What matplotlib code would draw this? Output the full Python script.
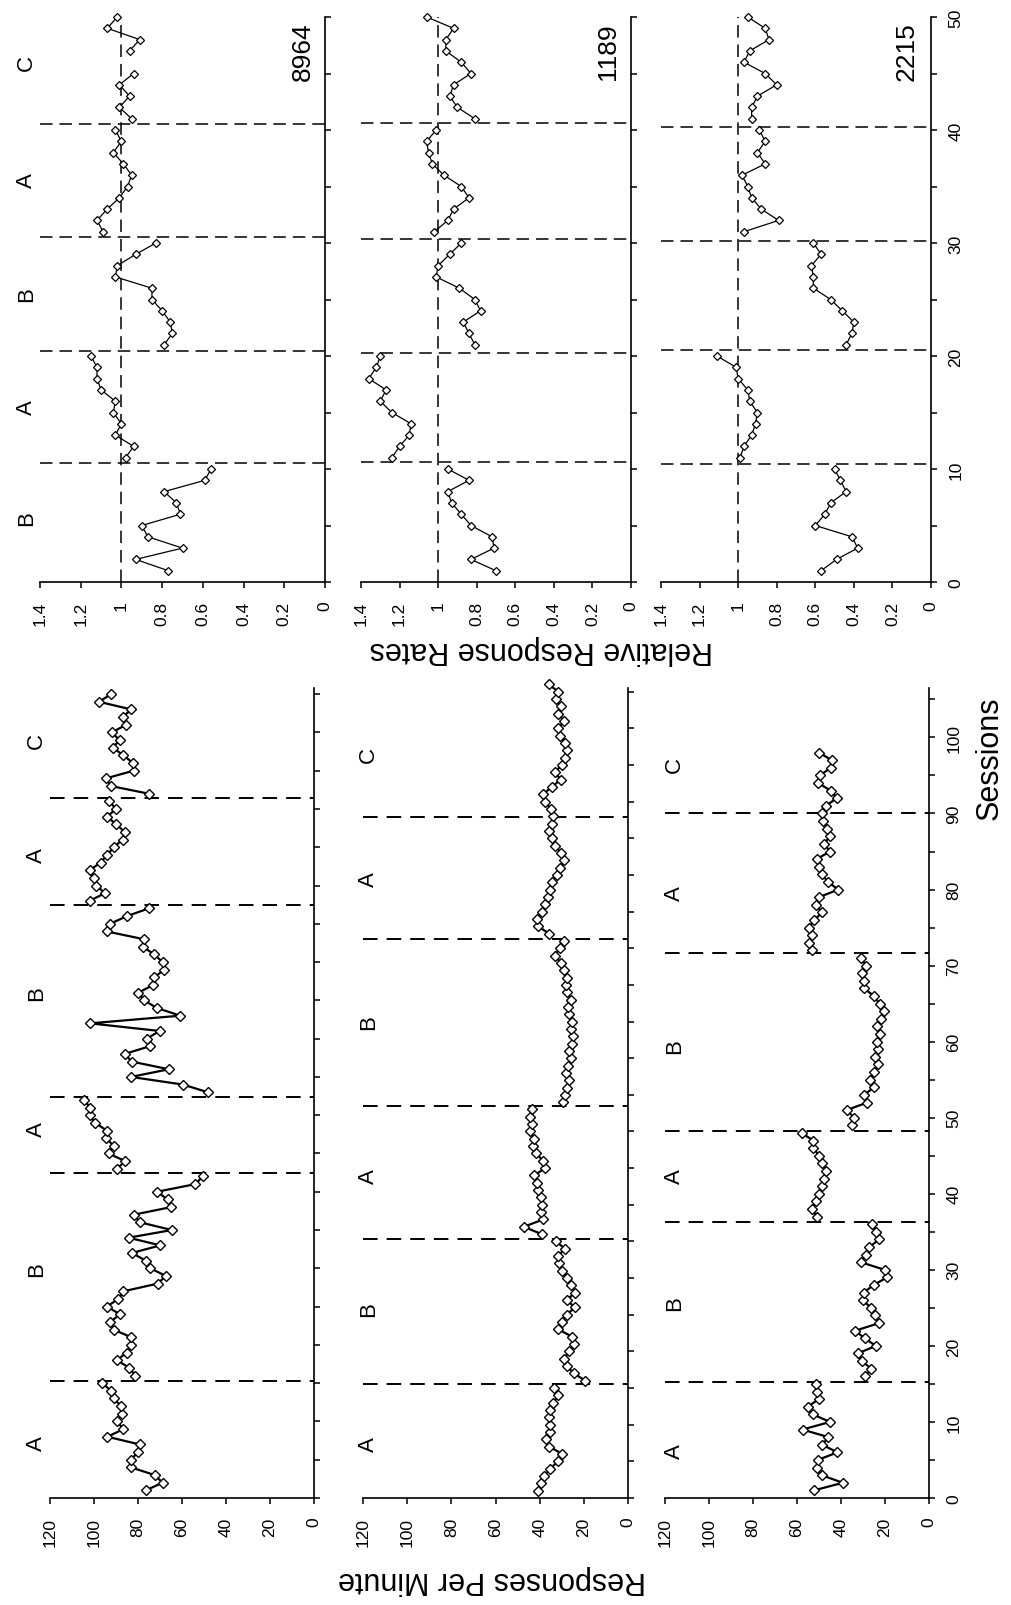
import numpy as np
import matplotlib.pyplot as plt

plt.rcParams['font.family'] = ['Liberation Sans', 'DejaVu Sans']
plt.rcParams['lines.scale_dashes'] = False

subjects = ["8964", "1189", "2215"]

# relative response rates, sessions 1-50 (nan = no session)
rel_sessions = np.arange(1, 51)
rel_8964 = [0.77, 0.93, 0.70, 0.87, 0.90, 0.71, 0.73, 0.79, 0.59, 0.56,
            0.98, 0.94, 1.03, 1.00, 1.04, 1.03, 1.10, 1.12, 1.12, 1.15,
            0.79, 0.75, 0.76, 0.80, 0.85, 0.85, 1.03, 1.02, 0.93, 0.83,
            1.09, 1.12, 1.07, 1.01, 0.97, 0.95, 0.99, 1.04, 1.00, 1.03,
            0.95, 1.01, 0.96, 1.01, 0.94, np.nan, 0.96, 0.91, 1.07, 1.02]
rel_1189 = [0.70, 0.83, 0.71, 0.72, 0.83, 0.88, 0.93, 0.95, 0.84, 0.95,
            1.24, 1.20, 1.15, 1.14, 1.24, 1.30, 1.27, 1.36, 1.32, 1.30,
            0.81, 0.84, 0.87, 0.78, 0.81, 0.89, 1.01, 1.00, 0.94, 0.88,
            1.02, 0.95, 0.92, 0.84, 0.88, 0.97, 1.03, 1.05, 1.06, 1.01,
            0.81, 0.90, 0.94, 0.92, 0.83, 0.88, 0.96, 0.96, 0.92, 1.06]
rel_2215 = [0.57, 0.49, 0.38, 0.41, 0.60, 0.55, 0.52, 0.44, 0.47, 0.50,
            0.99, 0.97, 0.93, 0.91, 0.90, 0.94, 0.95, 1.00, 1.01, 1.11,
            0.44, 0.41, 0.40, 0.46, 0.52, 0.61, 0.61, 0.62, 0.57, 0.61,
            0.97, 0.79, 0.88, 0.93, 0.95, 0.98, 0.86, 0.90, 0.86, 0.89,
            0.93, 0.93, 0.90, 0.80, 0.86, 0.97, 0.94, 0.84, 0.86, 0.95]
rel_phase_lines = [[10.5, 20.4, 30.5, 40.5],
                   [10.6, 20.3, 30.35, 40.6],
                   [10.4, 20.5, 30.2, 40.3]]
rel_phases = ["B", "A", "B", "A", "C"]
rel_phase_pos = [5.7, 15.5, 25.5, 35.6, 46]

# responses per minute
rpm_8964 = [76.4, 68.8, 72.5, 83.1, 83.2, 80.0, 79.3, 93.9, 86.6, 89.6, 87.3, 87.6, 91.1, 92.2, 96.2,
            81.3, 83.9, 89.6, 85.1, 83.1, 83.1, 91.1, 92.7, 88.1, 94.2, 88.9, 86.6, 71.1, 67.3, 74.4,
            76.4, 82.8, 69.9, 84.3, 64.6, 79.0, 82.0, 64.9, 66.5, 71.4, 53.9, 50.6,
            89.6, 85.8, 93.4, 91.1, 94.5, 94.2, 99.5, 102.0, 101.8, 104.5,
            48.3, 59.5, 83.2, 66.0, 82.8, 86.1, 74.7, 76.0, 70.2, 101.8, 60.8, 71.4, 77.2, 79.8,
            73.2, 72.6, 68.1, 68.8, 72.6, 77.8, 77.5, 94.2, 92.7, 85.1, 75.2,
            102.0, 95.0, 99.0, 100.0, 102.0, 97.0, 94.0, 91.0, 87.0, 86.0, 90.0, 94.0, 90.0, 93.0,
            75.2, 92.4, 94.5, 82.0, 82.3, 86.6, 91.4, 88.4, 91.9, 85.4, 86.9, 83.1, 97.7, 92.2]
rpm_1189 = [40.7, 39.4, 37.9, 35.3, 31.6, 29.7, 35.6, 37.2, 35.3, 35.3, 35.8, 35.3, 33.8, 31.5, 33.4,
            19.4, 24.4, 27.8, 28.8, 26.7, 24.4, 25.2, 31.6, 30.0, 27.8, 24.0, 27.8, 24.0, 25.8, 27.8,
            30.0, 31.1, 31.9, 28.5, 32.6,
            39.1, 47.2, 38.4, 39.4, 39.1, 39.4, 40.7, 41.0, 42.5, 37.5, 38.5, 41.5, 43.0, 42.5, 44.5,
            43.5, 44.5, 43.6,
            29.5, 28.5, 27.5, 26.5, 28.0, 27.0, 26.0, 26.5, 25.5, 25.0, 26.0, 25.5, 26.5, 27.0, 26.0,
            27.5, 28.0, 27.5, 29.0, 30.5, 33.0, 31.0, 29.0,
            35.8, 40.7, 41.4, 39.1, 37.6, 36.1, 35.3, 34.6, 32.3, 30.8, 28.8, 30.3, 33.1, 34.6, 35.8, 34.6,
            34.0, 35.0, 37.5, 38.5, 34.5, 30.5, 33.0, 30.0, 28.5, 27.5, 28.5, 31.0, 31.5, 29.0, 31.5,
            30.5, 32.5, 31.5, 36.0]
rpm_2215 = [52.3, 39.2, 48.8, 51.1, 50.6, 41.6, 48.5, 45.7, 57.5, 45.0, 52.9, 55.2, 50.0, 50.8, 51.4,
            29.0, 26.2, 30.5, 32.5, 24.1, 29.3, 33.5, 22.6, 24.4, 26.2, 30.2, 29.7, 25.2, 19.1, 20.1,
            31.0, 28.7, 27.1, 22.6, 23.9, 25.9,
            51.1, 53.1, 51.5, 50.0, 48.8, 47.6, 46.8, 48.5, 49.9, 52.6, 52.6, 57.9,
            35.0, 34.0, 37.5, 28.0, 29.5, 25.0, 27.0, 25.0, 23.0, 24.5, 23.0, 23.5, 22.5, 23.5, 22.0,
            20.5, 22.5, 25.0, 29.5, 29.5, 30.5, 28.5, 31.0,
            53.4, 54.4, 53.4, 54.6, 52.1, 48.5, 51.5, 50.0, 41.2, 46.0, 48.5, 50.0, 51.1, 45.0, 47.6,
            45.0, 46.2, 48.0, 48.5,
            47.0, 41.9, 44.7, 50.3, 49.6, 44.7, 44.2, 49.9]
rpm_session_max = [105.8, 110.5, 106.5]
rpm_phase_lines = [[15.3, 42.5, 52.4, 77.5, 91.4],
                   [15.5, 35.4, 53.5, 76.2, 92.9],
                   [15.2, 36.3, 48.3, 71.7, 90.1]]
rpm_phases = ["A", "B", "A", "B", "A", "C"]
rpm_phase_pos = [[7.2, 30, 48.3, 66, 84, 99],
                 [7.4, 25.8, 44, 65, 84.5, 101.5],
                 [6.3, 25.7, 42.4, 59.5, 79.6, 96.5]]
rpm_label_x = [126, 117.4, 115.7]

rel_ticks = [1.4, 1.2, 1.0, 0.8, 0.6, 0.4, 0.2, 0.0]
rel_ticklabels = ["1.4", "1.2", "1", "0.8", "0.6", "0.4", "0.2", "0"]
rpm_ticks = [120, 100, 80, 60, 40, 20, 0]
rpm_ticklabels = ["120", "100", "80", "60", "40", "20", "0"]

W, H = 1011, 1606
fig = plt.figure(figsize=(W / 100, H / 100), dpi=100)


def box(x0, x1, ytop, ybot):
    return [x0 / W, 1 - ybot / H, (x1 - x0) / W, (ybot - ytop) / H]


def style_axes(ax, xticks, xlabels, smax, show_session_labels):
    for side in ["top", "left"]:
        ax.spines[side].set_visible(False)
    for side in ["bottom", "right"]:
        ax.spines[side].set_linewidth(1.2)
    ax.yaxis.tick_right()
    ax.set_xticks(xticks)
    ax.set_xticklabels(xlabels, rotation=90, fontsize=12.5)
    yt = np.arange(0, smax + 0.01, 5)
    ax.set_yticks(yt)
    if show_session_labels:
        ax.set_yticklabels([f"{int(v)}" if v % 10 == 0 else "" for v in yt],
                           rotation=90, va="center", fontsize=12.5)
    else:
        ax.set_yticklabels([])
    ax.tick_params(axis="x", direction="out", length=4.5, width=1.1, pad=9)
    ax.tick_params(axis="y", direction="out", length=4.5, width=1.1, pad=8,
                   left=False, right=True)


def plot_phases(ax, values, bounds, lw, ms, mew):
    # one line per phase, not joined across the phase change lines
    values = np.asarray(values, dtype=float)
    sess = np.arange(1, len(values) + 1)
    edges = [0] + list(bounds) + [1e9]
    for lo, hi in zip(edges[:-1], edges[1:]):
        m = (sess > lo) & (sess < hi)
        ax.plot(values[m], sess[m], color="black", lw=lw, marker="D", ms=ms,
                mfc="white", mec="black", mew=mew, clip_on=False, zorder=3)


# top row: relative response rates
rel_boxes = [box(40, 325, 18, 583), box(361, 631, 18, 583), box(661, 931, 18, 583)]
rel_data = [rel_8964, rel_1189, rel_2215]
rel_subj_x = [0.108, 0.119, 0.124]
for i in range(3):
    ax = fig.add_axes(rel_boxes[i])
    ax.set_xlim(1.4, 0)
    ax.set_ylim(0, 50)
    ax.axvline(1.0, color="black", lw=1.1, dashes=(9, 5), zorder=1)
    for s in rel_phase_lines[i]:
        ax.axhline(s, color="black", lw=1.1, dashes=(9, 5), zorder=1)
    plot_phases(ax, rel_data[i], rel_phase_lines[i], 0.9, 4.3, 0.9)
    style_axes(ax, rel_ticks, rel_ticklabels, 50, i == 2)
    if i == 0:
        for lab, pos in zip(rel_phases, rel_phase_pos):
            ax.text(1.465, pos, lab, rotation=90, ha="center", va="center",
                    fontsize=16, clip_on=False)
    ax.text(rel_subj_x[i], 47, subjects[i], rotation=90, ha="center", va="center",
            fontsize=19)

# bottom row: responses per minute
rpm_boxes = [box(50, 314, 689, 1499), box(363, 628, 689, 1499), box(665, 929, 689, 1499)]
rpm_data = [rpm_8964, rpm_1189, rpm_2215]
for i in range(3):
    ax = fig.add_axes(rpm_boxes[i])
    ax.set_xlim(120, 0)
    ax.set_ylim(0, rpm_session_max[i])
    for s in rpm_phase_lines[i]:
        ax.axhline(s, color="black", lw=1.4, dashes=(10.5, 6.5), zorder=1)
    plot_phases(ax, rpm_data[i], rpm_phase_lines[i], 1.6, 5.4, 1.0)
    style_axes(ax, rpm_ticks, rpm_ticklabels, rpm_session_max[i], i == 2)
    for lab, pos in zip(rpm_phases, rpm_phase_pos[i]):
        ax.text(rpm_label_x[i], pos, lab, rotation=90, ha="center", va="center",
                fontsize=16, clip_on=False)

fig.text(541 / W, 1 - 650 / H, "Relative Response Rates", rotation=180,
         ha="center", va="center", fontsize=22)
fig.text(492 / W, 1 - 1580 / H, "Responses Per Minute", rotation=180,
         ha="center", va="center", fontsize=22)
fig.text(990 / W, 1 - 758 / H, "Sessions", rotation=90,
         ha="center", va="center", fontsize=22)

fig.savefig("out.png", dpi=100)
